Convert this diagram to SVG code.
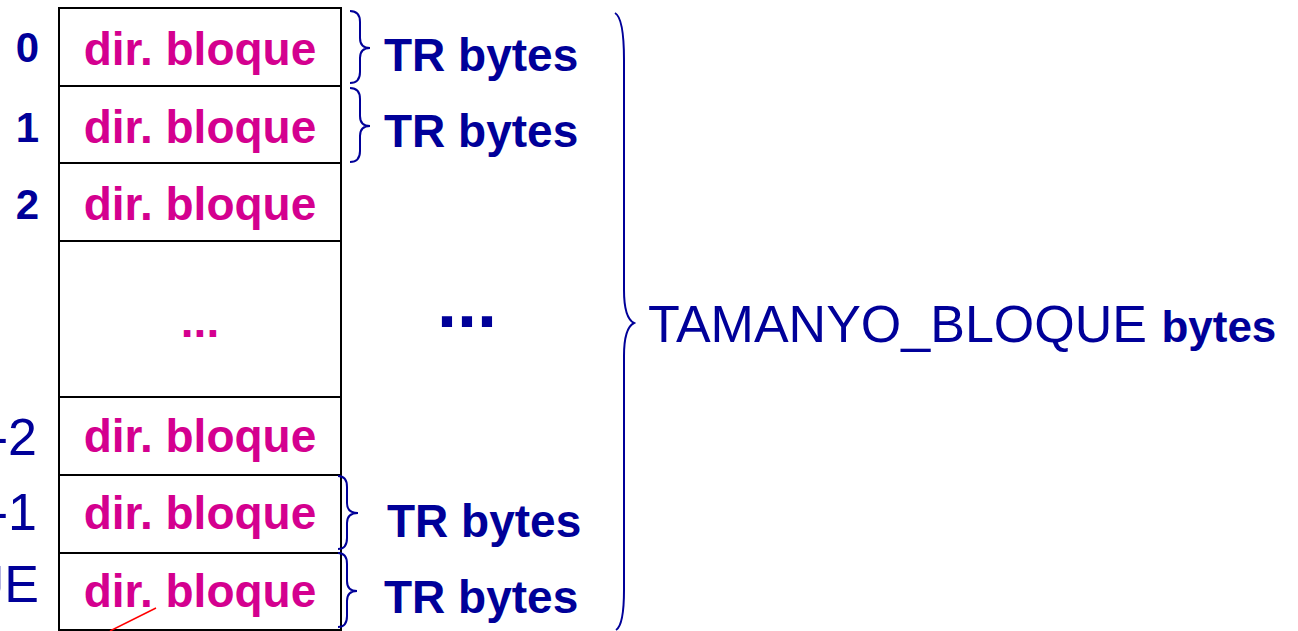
<svg xmlns="http://www.w3.org/2000/svg" width="1298" height="631" viewBox="0 0 1298 631">
  <style>
    .cell { fill: #ffffff; stroke: #000000; stroke-width: 2; }
    .dir { font-family: "Liberation Sans", Arial, sans-serif; font-weight: bold; font-size: 46px; fill: #D4008F; text-anchor: middle; }
    .idx { font-family: "Liberation Sans", Arial, sans-serif; font-weight: bold; font-size: 42px; fill: #000099; text-anchor: end; }
    .idxr { font-family: "Liberation Sans", Arial, sans-serif; font-size: 52px; fill: #000099; text-anchor: end; }
    .tr { font-family: "Liberation Sans", Arial, sans-serif; font-weight: bold; font-size: 46px; fill: #000099; }
    .brace { fill: none; stroke: #000099; stroke-width: 2; }
  </style>

  <!-- block table: one cell per entry -->
  <g id="cell-0">
    <rect class="cell" x="59" y="8" width="282" height="78"/>
    <text class="idx" x="39" y="62">0</text>
    <text class="dir" x="200" y="65">dir. bloque</text>
  </g>
  <g id="cell-1">
    <rect class="cell" x="59" y="86" width="282" height="77"/>
    <text class="idx" x="39" y="142">1</text>
    <text class="dir" x="200" y="143">dir. bloque</text>
  </g>
  <g id="cell-2">
    <rect class="cell" x="59" y="163" width="282" height="78"/>
    <text class="idx" x="39" y="219">2</text>
    <text class="dir" x="200" y="220">dir. bloque</text>
  </g>
  <g id="cell-gap">
    <rect class="cell" x="59" y="241" width="282" height="156"/>
    <text class="dir" x="200" y="337">...</text>
  </g>
  <g id="cell-n2">
    <rect class="cell" x="59" y="397" width="282" height="78"/>
    <text class="idxr" x="37" y="455">-2</text>
    <text class="dir" x="200" y="452">dir. bloque</text>
  </g>
  <g id="cell-n1">
    <rect class="cell" x="59" y="475" width="282" height="78"/>
    <text class="idxr" x="37" y="530">-1</text>
    <text class="dir" x="200" y="529">dir. bloque</text>
  </g>
  <g id="cell-last">
    <rect class="cell" x="59" y="553" width="282" height="77"/>
    <text class="idxr" x="39" y="602">UE</text>
    <text class="dir" x="200" y="607">dir. bloque</text>
  </g>

  <!-- size annotations -->
  <g id="size-0">
    <path class="brace" d="M350,11 Q360,11 360,22 L360,38 Q360,48 370,48 Q360,48 360,58 L360,72 Q360,83 350,83"/>
    <text class="tr" x="384" y="71">TR bytes</text>
  </g>
  <g id="size-1">
    <path class="brace" d="M350,88 Q360,88 360,99 L360,116 Q360,126 370,126 Q360,126 360,136 L360,151 Q360,162 350,162"/>
    <text class="tr" x="384" y="147">TR bytes</text>
  </g>
  <g id="size-gap">
    <text x="467" y="327" font-family="Liberation Sans, Arial, sans-serif" font-weight="bold" font-size="72" fill="#000099" text-anchor="middle">...</text>
  </g>
  <g id="size-n1">
    <path class="brace" d="M338,476 Q347,476 347,487 L347,503 Q347,513 358,513 Q347,513 347,523 L347,538 Q347,549 338,549"/>
    <text class="tr" x="387" y="537">TR bytes</text>
  </g>
  <g id="size-last">
    <path class="brace" d="M338,553 Q347,553 347,564 L347,581 Q347,591 357,591 Q347,591 347,601 L347,616 Q347,627 338,627"/>
    <text class="tr" x="384" y="613">TR bytes</text>
  </g>
  <g id="size-total">
    <path class="brace" d="M615,13 Q624,18 624,60 L624,290 Q624,318 634,323 Q624,328 624,356 L624,590 Q624,625 616,630"/>
    <text x="648" y="342" font-family="Liberation Sans, Arial, sans-serif" font-size="52" fill="#000099">TAMANYO_BLOQUE <tspan font-weight="bold" font-size="44">bytes</tspan></text>
  </g>

  <!-- connectors -->
  <g id="connectors">
    <line x1="110" y1="631" x2="156" y2="608" stroke="#FF0000" stroke-width="1.5"/>
  </g>
</svg>
